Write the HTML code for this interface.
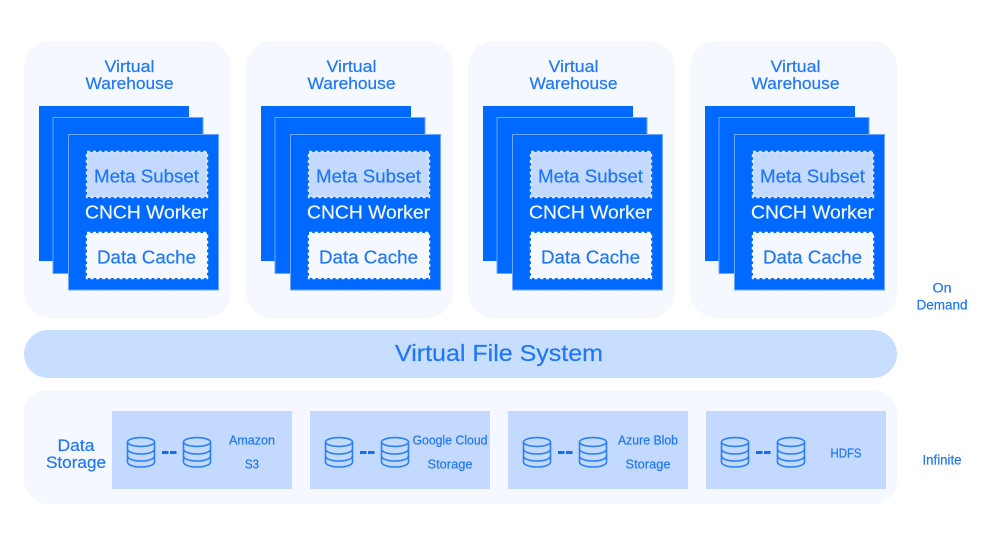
<!DOCTYPE html>
<html><head><meta charset="utf-8"><style>
html,body{margin:0;padding:0;background:#fff}
svg{display:block}
text{font-family:"Liberation Sans",sans-serif;fill:#1f77fb;stroke:#1f77fb;stroke-width:.2;text-anchor:middle}
</style></head><body>
<svg width="992" height="546" viewBox="0 0 992 546" xmlns="http://www.w3.org/2000/svg">
<defs>
<g id="wh">
<rect x="24" y="41" width="207" height="277" rx="26" fill="#f5f8ff"/>
<rect x="39" y="106" width="150" height="155" fill="#0069ff"/>
<rect x="53" y="117.5" width="150" height="156" fill="#0069ff" stroke="#6ea8ff" stroke-width="1"/>
<rect x="68.5" y="134.5" width="150" height="155.5" fill="#0069ff" stroke="#6ea8ff" stroke-width="1"/>
<rect x="87" y="152" width="120" height="45" fill="#c3dafe" stroke="#d4e4ff" stroke-width="2.4" stroke-dasharray="3.2 2.6"/>
<rect x="87" y="233" width="120" height="45" fill="#f5f8ff" stroke="#f5f8ff" stroke-width="2.4" stroke-dasharray="3.2 2.6"/>
</g>
<g id="cyl" fill="none" stroke="#2b80fb" stroke-width="1.6">
<ellipse cx="0" cy="-10" rx="13.5" ry="4.4"/>
<path d="M-13.5-10V10C-13.5 13 -7 15 0 15S13.5 13 13.5 10V-10"/>
<path d="M-13.5-3C-13.5 0 -7 2 0 2S13.5 0 13.5-3"/>
<path d="M-13.5 4C-13.5 7 -7 9 0 9S13.5 7 13.5 4"/>
</g>
<g id="pair">
<use href="#cyl" x="141" y="452"/>
<use href="#cyl" x="197" y="452"/>
<rect x="162" y="451" width="6.5" height="3" fill="#0f6dfb"/>
<rect x="170" y="451" width="6.5" height="3" fill="#0f6dfb"/>
</g>
</defs>

<use href="#wh"/>
<use href="#wh" x="222"/>
<use href="#wh" x="444"/>
<use href="#wh" x="666"/>

<g font-size="17">
<text x="129.5" y="72" textLength="50" lengthAdjust="spacingAndGlyphs">Virtual</text>
<text x="129.5" y="89" textLength="88" lengthAdjust="spacingAndGlyphs">Warehouse</text>
<text x="351.5" y="72" textLength="50" lengthAdjust="spacingAndGlyphs">Virtual</text>
<text x="351.5" y="89" textLength="88" lengthAdjust="spacingAndGlyphs">Warehouse</text>
<text x="573.5" y="72" textLength="50" lengthAdjust="spacingAndGlyphs">Virtual</text>
<text x="573.5" y="89" textLength="88" lengthAdjust="spacingAndGlyphs">Warehouse</text>
<text x="795.5" y="72" textLength="50" lengthAdjust="spacingAndGlyphs">Virtual</text>
<text x="795.5" y="89" textLength="88" lengthAdjust="spacingAndGlyphs">Warehouse</text>
</g>
<g font-size="18">
<text x="146.5" y="182.5" textLength="105" lengthAdjust="spacingAndGlyphs">Meta Subset</text>
<text x="146.5" y="263.5" textLength="99" lengthAdjust="spacingAndGlyphs">Data Cache</text>
<text x="368.5" y="182.5" textLength="105" lengthAdjust="spacingAndGlyphs">Meta Subset</text>
<text x="368.5" y="263.5" textLength="99" lengthAdjust="spacingAndGlyphs">Data Cache</text>
<text x="590.5" y="182.5" textLength="105" lengthAdjust="spacingAndGlyphs">Meta Subset</text>
<text x="590.5" y="263.5" textLength="99" lengthAdjust="spacingAndGlyphs">Data Cache</text>
<text x="812.5" y="182.5" textLength="105" lengthAdjust="spacingAndGlyphs">Meta Subset</text>
<text x="812.5" y="263.5" textLength="99" lengthAdjust="spacingAndGlyphs">Data Cache</text>
<text x="146.5" y="218.5" textLength="123" lengthAdjust="spacingAndGlyphs" style="fill:#f5f8ff;stroke:#f5f8ff">CNCH Worker</text>
<text x="368.5" y="218.5" textLength="123" lengthAdjust="spacingAndGlyphs" style="fill:#f5f8ff;stroke:#f5f8ff">CNCH Worker</text>
<text x="590.5" y="218.5" textLength="123" lengthAdjust="spacingAndGlyphs" style="fill:#f5f8ff;stroke:#f5f8ff">CNCH Worker</text>
<text x="812.5" y="218.5" textLength="123" lengthAdjust="spacingAndGlyphs" style="fill:#f5f8ff;stroke:#f5f8ff">CNCH Worker</text>
</g>

<rect x="24" y="330" width="873" height="48" rx="24" fill="#c8defe"/>
<text x="499" y="361" font-size="23" textLength="208" lengthAdjust="spacingAndGlyphs">Virtual File System</text>

<rect x="24" y="390" width="873" height="114" rx="24" fill="#f5f8ff"/>
<text x="76" y="451" font-size="17" textLength="37" lengthAdjust="spacingAndGlyphs">Data</text>
<text x="76" y="468" font-size="17" textLength="60" lengthAdjust="spacingAndGlyphs">Storage</text>

<rect x="112" y="411" width="180" height="78" fill="#c3dafe"/>
<rect x="310" y="411" width="180" height="78" fill="#c3dafe"/>
<rect x="508" y="411" width="180" height="78" fill="#c3dafe"/>
<rect x="706" y="411" width="180" height="78" fill="#c3dafe"/>
<use href="#pair"/>
<use href="#pair" x="198"/>
<use href="#pair" x="396"/>
<use href="#pair" x="594"/>

<g font-size="12.5">
<text x="252" y="444.5" textLength="46" lengthAdjust="spacingAndGlyphs">Amazon</text>
<text x="252" y="468.5" textLength="14" lengthAdjust="spacingAndGlyphs">S3</text>
<text x="450" y="444.5" textLength="75" lengthAdjust="spacingAndGlyphs">Google Cloud</text>
<text x="450" y="468.5" textLength="45" lengthAdjust="spacingAndGlyphs">Storage</text>
<text x="648" y="444.5" textLength="60" lengthAdjust="spacingAndGlyphs">Azure Blob</text>
<text x="648" y="468.5" textLength="45" lengthAdjust="spacingAndGlyphs">Storage</text>
<text x="846" y="457.5" textLength="31" lengthAdjust="spacingAndGlyphs">HDFS</text>
</g>

<g font-size="13.5">
<text x="942" y="292.5" textLength="19" lengthAdjust="spacingAndGlyphs">On</text>
<text x="942" y="309.5" textLength="51" lengthAdjust="spacingAndGlyphs">Demand</text>
<text x="942" y="464.5" textLength="39" lengthAdjust="spacingAndGlyphs">Infinite</text>
</g>
</svg>
</body></html>
